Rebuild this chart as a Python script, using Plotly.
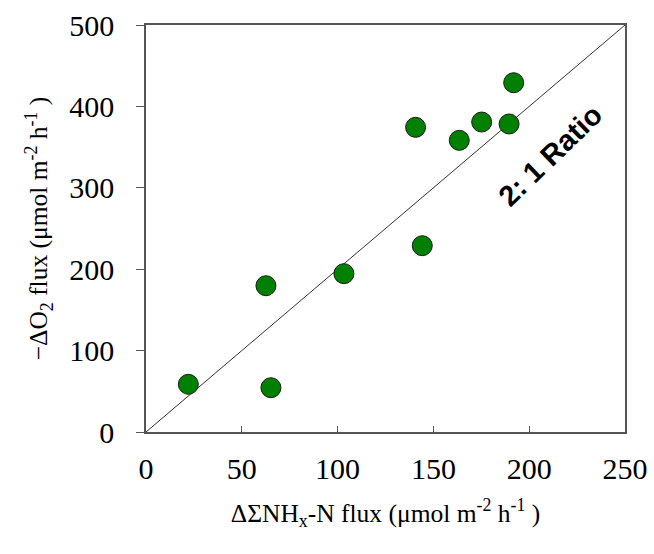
import plotly.graph_objects as go

nh_flux = [22.1, 65.2, 62.6, 103.3, 144.2, 140.7, 163.5, 175.2, 189.5, 191.9]
o2_flux = [58.6, 54.4, 179.7, 194.5, 228.9, 374.3, 358.3, 380.8, 378.4, 429.1]
ratio_x = [0, 250]
ratio_y = [0, 500]
x_ticks = [0, 50, 100, 150, 200, 250]
y_ticks = [0, 100, 200, 300, 400, 500]

fig = go.Figure()
fig.add_trace(go.Scatter(x=ratio_x, y=ratio_y, mode="lines",
                         line=dict(color="#333333", width=1), showlegend=False))
fig.add_trace(go.Scatter(x=nh_flux, y=o2_flux, mode="markers",
                         marker=dict(size=20, color="#008000",
                                     line=dict(color="#1a1a1a", width=1)),
                         showlegend=False))

fig.add_annotation(x=0.845, y=0.68, xref="paper", yref="paper",
                   xanchor="center", yanchor="middle",
                   text="<b>2: 1 Ratio</b>", showarrow=False, textangle=-44,
                   font=dict(family="Liberation Sans, Arial", size=29, color="black"))

serif = "Liberation Serif, Times New Roman, serif"
fig.update_layout(
    width=654, height=554,
    margin=dict(l=146, r=29, t=25, b=122),
    paper_bgcolor="white", plot_bgcolor="white",
    font=dict(family=serif, size=30, color="black"),
    xaxis=dict(range=[0, 250], tickvals=x_ticks, ticks="inside", ticklen=6,
               tickcolor="#555555", showline=True, linecolor="#555555", linewidth=1.5,
               mirror=True, showgrid=False, zeroline=False, automargin=False,
               tickfont=dict(size=30), ticklabelstandoff=9,
               title=dict(text="ΔΣNH<sub>x</sub>-N flux (μmol m<sup>-2</sup> h<sup>-1</sup> )",
                          standoff=20, font=dict(size=25.5))),
    yaxis=dict(range=[0, 500], tickvals=y_ticks, ticks="outside", ticklen=8,
               tickcolor="#555555", showline=True, linecolor="#555555", linewidth=1.5,
               mirror=True, showgrid=False, zeroline=False, automargin=False,
               tickfont=dict(size=30), ticklabelstandoff=16,
               title=dict(text="−ΔO<sub>2</sub> flux (μmol m<sup>-2</sup> h<sup>-1</sup> )",
                          standoff=14, font=dict(size=25.5))),
)
fig.write_html("out.html")
